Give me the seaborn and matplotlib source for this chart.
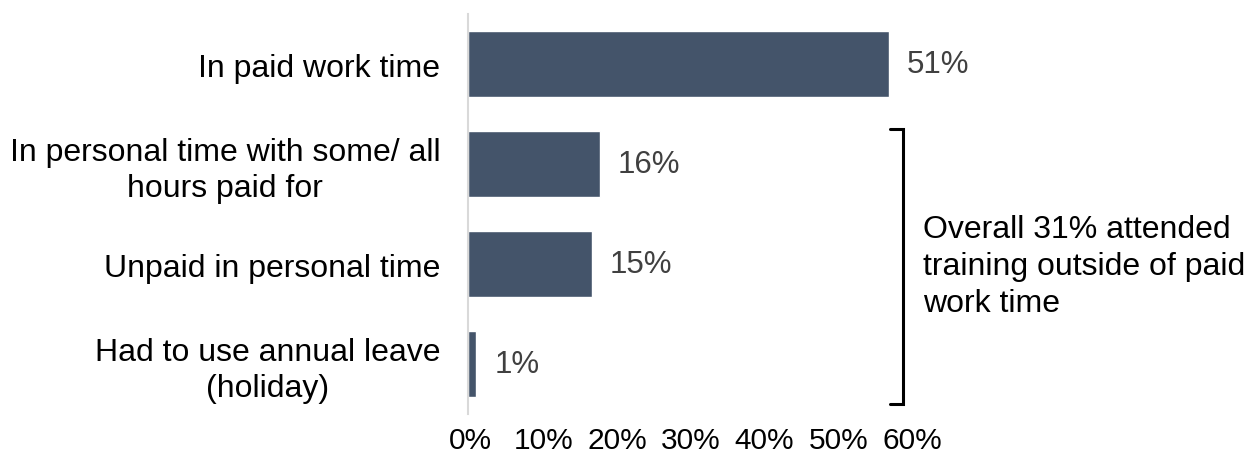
import matplotlib
matplotlib.use("Agg")
import matplotlib.pyplot as plt
import seaborn as sns
import pandas as pd

categories = [
    "In paid work time",
    "In personal time with some/ all\nhours paid for",
    "Unpaid in personal time",
    "Had to use annual leave\n(holiday)",
]
values = [51, 16, 15, 1]
tick_values = [0, 10, 20, 30, 40, 50, 60]
tick_labels = [f"{t}%" for t in tick_values]
note_text = "Overall 31% attended\ntraining outside of paid\nwork time"

BAR_COLOR = "#44546A"
VALUE_COLOR = "#404040"
AXIS_COLOR = "#D9D9D9"

sns.set_style("white")
plt.rcParams["font.family"] = ["Liberation Sans", "DejaVu Sans"]

W, H = 1249, 464
fig = plt.figure(figsize=(W / 100, H / 100), dpi=100)

# main bar panel
ax = fig.add_axes([468 / W, 1 - 415 / H, 495 / W, 400 / H])
df = pd.DataFrame({"category": categories, "value": values})
sns.barplot(data=df, x="value", y="category", orient="h", color=BAR_COLOR,
            width=0.66, saturation=1, ax=ax)
ax.set_xlim(0, 60)
ax.set_ylim(3.5, -0.5)
ax.set_xlabel("")
ax.set_ylabel("")
ax.set_xticks([])
for side in ("top", "right", "bottom"):
    ax.spines[side].set_visible(False)
ax.spines["left"].set_color(AXIS_COLOR)
ax.spines["left"].set_linewidth(1.5)
ax.tick_params(axis="y", length=0, pad=20, labelsize=23, labelcolor="black")
for lbl in ax.get_yticklabels():
    lbl.set_multialignment("center")
    lbl.set_linespacing(1.23)

ax.bar_label(ax.containers[0], labels=[f"{v}%" for v in values], padding=13,
             fontsize=22.5, color=VALUE_COLOR)

# bracket grouping the three outside-paid-time rows
bx = 52.7
y_top, y_bot = 1 - 0.35, 3 + 0.4
ax.plot([bx - 1.6, bx, bx, bx - 1.6], [y_top, y_top, y_bot, y_bot],
        color="black", lw=2.2, clip_on=False, solid_joinstyle="miter")
ax.text(bx + 2.4, 2.02, note_text, fontsize=23, color="black",
        ha="left", va="center", linespacing=1.3, clip_on=False)

# percentage scale row
tax = fig.add_axes([470 / W, 1 - 416 / H, 442 / W, 0.001])
tax.set_xlim(0, 60)
tax.set_xticks(tick_values)
tax.set_xticklabels(tick_labels)
tax.set_yticks([])
tax.tick_params(axis="x", length=0, pad=8, labelsize=21.5, labelcolor="black")
for s in tax.spines.values():
    s.set_visible(False)
tax.patch.set_alpha(0)

fig.savefig("out.png", dpi=100)
